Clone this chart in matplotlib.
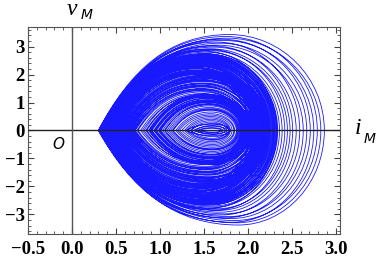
import numpy as np
import matplotlib
matplotlib.use("Agg")
import matplotlib.pyplot as plt
from matplotlib.path import Path
from matplotlib.patches import PathPatch
from matplotlib.ticker import MultipleLocator

plt.rcParams['font.family'] = ['Liberation Serif', 'DejaVu Serif']
plt.rcParams['font.weight'] = 'bold'

# each loop of the trajectory: left tip, right edge, top and bottom of v_M
i_left = [0.30, 0.31, 0.32, 0.30, 0.33, 0.34, 0.31, 0.35, 0.32, 0.36, 0.33, 0.34,
          0.35, 0.33, 0.37, 0.34,
          0.34, 0.37, 0.33, 0.41, 0.36, 0.44, 0.39, 0.35, 0.47, 0.40, 0.38, 0.43,
          0.34, 0.50, 0.39, 0.42, 0.52, 0.36, 0.41, 0.45, 0.35, 0.48, 0.38, 0.43,
          0.51, 0.37, 0.40, 0.46, 0.34, 0.49, 0.41, 0.44, 0.36, 0.47, 0.39, 0.42,
          0.48, 0.55, 0.62, 0.50, 0.70, 0.58, 0.66, 0.52, 0.75, 0.60, 0.68, 0.54,
          0.80, 0.63, 0.57, 0.72, 0.49, 0.65, 0.78, 0.56, 0.61, 0.84, 0.53, 0.69,
          0.59, 0.74, 0.51, 0.64, 0.82, 0.57, 0.67, 0.71,
          0.85, 0.95, 1.05, 0.90, 1.15, 1.00, 1.25, 0.88, 1.10, 0.98, 1.20, 0.93,
          1.30, 1.03, 0.87, 1.12, 1.35, 0.96, 1.08, 0.91, 1.18, 1.01, 1.28, 0.94,
          1.14, 1.06, 0.89, 1.22, 0.99, 1.32,
          1.30, 1.38, 1.42, 1.35, 1.45, 1.40]
i_right = [2.87, 2.83, 2.79, 2.75, 2.71, 2.67, 2.63, 2.59, 2.55, 2.51, 2.48, 2.45,
           2.42, 2.39, 2.36, 2.33,
           2.34, 2.30, 2.32, 2.22, 2.27, 2.16, 2.25, 2.29, 2.10, 2.21, 2.26, 2.14,
           2.33, 2.06, 2.24, 2.17, 2.02, 2.28, 2.19, 2.12, 2.31, 2.08, 2.25, 2.15,
           2.04, 2.23, 2.20, 2.11, 2.30, 2.07, 2.18, 2.13, 2.29, 2.09, 2.22, 2.16,
           2.25, 2.19, 2.13, 2.22, 2.05, 2.16, 2.09, 2.20, 2.01, 2.14, 2.07, 2.19,
           1.96, 2.12, 2.17, 2.03, 2.24, 2.10, 1.98, 2.15, 2.13, 1.92, 2.21, 2.06,
           2.11, 2.00, 2.23, 2.08, 1.94, 2.16, 2.04, 2.02,
           2.04, 1.99, 1.93, 2.02, 1.88, 1.96, 1.82, 2.03, 1.91, 1.97, 1.85, 2.00,
           1.79, 1.94, 2.04, 1.90, 1.76, 1.98, 1.92, 2.01, 1.87, 1.95, 1.80, 1.99,
           1.89, 1.93, 2.03, 1.84, 1.96, 1.78,
           1.80, 1.76, 1.72, 1.78, 1.70, 1.74]
v_top = [3.43, 3.30, 3.36, 3.22, 3.26, 3.12, 3.05, 3.16, 2.98, 3.02, 2.92, 2.86,
         2.90, 2.80, 2.74, 2.84,
         2.75, 2.64, 2.70, 2.44, 2.58, 2.30, 2.50, 2.68, 2.16, 2.42, 2.55, 2.26,
         2.72, 2.06, 2.48, 2.35, 2.00, 2.62, 2.40, 2.22, 2.70, 2.12, 2.52, 2.30,
         2.02, 2.56, 2.46, 2.20, 2.66, 2.10, 2.38, 2.24, 2.60, 2.14, 2.47, 2.33,
         2.15, 1.95, 1.75, 2.08, 1.50, 1.85, 1.62, 2.02, 1.38, 1.80, 1.55, 1.98,
         1.25, 1.70, 1.90, 1.45, 2.12, 1.66, 1.32, 1.88, 1.78, 1.20, 2.05, 1.58,
         1.82, 1.42, 2.10, 1.68, 1.28, 1.92, 1.60, 1.48,
         1.30, 1.10, 0.92, 1.22, 0.72, 1.02, 0.50, 1.26, 0.82, 1.06, 0.60, 1.16,
         0.40, 0.96, 1.28, 0.78, 0.30, 1.08, 0.88, 1.20, 0.66, 1.00, 0.45, 1.14,
         0.75, 0.94, 1.24, 0.55, 1.04, 0.35,
         0.22, 0.15, 0.10, 0.25, 0.08, 0.18]
v_bottom = [-3.38, -3.30, -3.22, -3.28, -3.15, -3.08, -3.12, -2.98, -3.02, -2.92, -2.86, -2.80,
            -2.84, -2.74, -2.70, -2.78,
            -2.65, -2.55, -2.62, -2.36, -2.50, -2.22, -2.42, -2.60, -2.08, -2.34, -2.48, -2.18,
            -2.66, -1.98, -2.40, -2.28, -1.92, -2.54, -2.32, -2.14, -2.62, -2.04, -2.44, -2.22,
            -1.94, -2.48, -2.38, -2.12, -2.58, -2.02, -2.30, -2.16, -2.52, -2.06, -2.40, -2.26,
            -2.05, -1.85, -1.65, -1.98, -1.40, -1.75, -1.52, -1.92, -1.28, -1.70, -1.45, -1.88,
            -1.15, -1.60, -1.80, -1.35, -2.02, -1.56, -1.22, -1.78, -1.68, -1.10, -1.95, -1.48,
            -1.72, -1.32, -2.00, -1.58, -1.18, -1.82, -1.50, -1.38,
            -1.22, -1.02, -0.85, -1.15, -0.65, -0.95, -0.45, -1.18, -0.75, -0.98, -0.55, -1.08,
            -0.35, -0.88, -1.20, -0.70, -0.28, -1.00, -0.80, -1.12, -0.60, -0.92, -0.40, -1.06,
            -0.68, -0.86, -1.16, -0.50, -0.96, -0.32,
            -0.18, -0.12, -0.08, -0.22, -0.06, -0.14]

xticks = [-0.5, 0.0, 0.5, 1.0, 1.5, 2.0, 2.5, 3.0]
xlabels = ['\u22120.5', '0.0', '0.5', '1.0', '1.5', '2.0', '2.5', '3.0']
yticks = [-3, -2, -1, 0, 1, 2, 3]
ylabels = ['\u22123', '\u22122', '\u22121', '0', '1', '2', '3']

# every loop is a closed egg shape (pointed on the left) of four bezier pieces
verts = []
codes = []
for il, ir, vt, vb in zip(i_left, i_right, v_top, v_bottom, strict=True):
    pt = il + 0.58 * (ir - il)
    pb = il + 0.62 * (ir - il)
    verts += [
        (il, 0),
        (il + 0.25 * (pt - il), 0.65 * vt), (pt - 0.45 * (pt - il), vt), (pt, vt),
        (pt + 0.55 * (ir - pt), vt), (ir, 0.55 * vt), (ir, 0),
        (ir, 0.55 * vb), (pb + 0.55 * (ir - pb), vb), (pb, vb),
        (pb - 0.45 * (pb - il), vb), (il + 0.25 * (pb - il), 0.65 * vb), (il, 0),
    ]
    codes += [Path.MOVETO] + [Path.CURVE4] * 12

fig = plt.figure(figsize=(3.77, 2.62), dpi=100)
ax = fig.add_axes([0.0743, 0.107, 0.828, 0.790])

ax.add_patch(PathPatch(Path(verts, codes), facecolor='none', edgecolor='#0000ff',
                       alpha=0.9, lw=0.6))

ax.axhline(0, color='#222222', lw=1.0, zorder=3)
ax.axvline(0, color='#555555', lw=1.0, zorder=3)

ax.set_xlim(-0.5, 3.05)
ax.set_ylim(-3.7, 3.7)
ax.set_xticks(xticks, labels=xlabels, fontsize=13.5, fontweight='bold')
ax.set_yticks(yticks, labels=ylabels, fontsize=13.5, fontweight='bold')
ax.xaxis.set_minor_locator(MultipleLocator(0.1))
ax.yaxis.set_minor_locator(MultipleLocator(0.2))
ax.tick_params(which='both', direction='in', top=True, right=True, color='#444444')
ax.tick_params(which='major', length=4, width=0.8)
ax.tick_params(which='minor', length=2, width=0.6)
ax.tick_params(axis='x', pad=5)
ax.tick_params(axis='y', pad=2.5)
for sp in ax.spines.values():
    sp.set_color('#555555')
    sp.set_linewidth(0.8)

# axis names: italic serif letter with a small italic sans subscript
fig.text(0.191, 0.962, 'v', fontsize=17, style='italic', fontweight='normal',
         ha='center', va='center')
fig.text(0.231, 0.942, 'M', fontsize=10, style='italic', fontweight='normal',
         fontfamily='DejaVu Sans', ha='center', va='center')
fig.text(0.950, 0.508, 'i', fontsize=17, style='italic', fontweight='normal',
         ha='center', va='center')
fig.text(0.981, 0.470, 'M', fontsize=10, style='italic', fontweight='normal',
         fontfamily='DejaVu Sans', ha='center', va='center')
ax.text(-0.16, -0.5, 'O', fontsize=11, fontfamily='DejaVu Sans', fontweight='normal',
        style='italic', ha='center', va='center')

fig.savefig('out.png', dpi=100)
